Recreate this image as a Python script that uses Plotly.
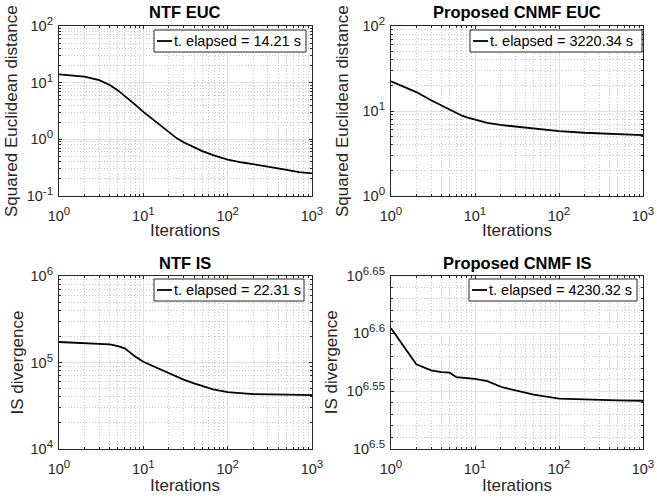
import plotly.graph_objects as go

FONT = "Liberation Sans, Arial, Helvetica, sans-serif"
INK = "#262626"
MAJOR_GRID = "#e0e0e0"
MINOR_GRID = "#c8c8c8"

W, H = 657, 500

# NTF with Euclidean cost
ntf_euc_iter = [1, 2, 3, 4, 5, 6, 7, 8, 10, 12, 14, 17, 20, 25, 30, 40, 50, 70,
                100, 150, 200, 300, 500, 700, 1000]
ntf_euc_cost = [14.0, 12.8, 11.1, 9.1, 7.3, 5.9, 4.85, 4.1, 3.05, 2.45, 2.03, 1.6,
                1.32, 1.04, 0.89, 0.715, 0.62, 0.515, 0.44, 0.39, 0.36, 0.33, 0.29,
                0.265, 0.25]

# Proposed CNMF with Euclidean cost
cnmf_euc_iter = [1, 2, 3, 4, 5, 6, 7, 8, 10, 14, 20, 30, 50, 100, 200, 500, 1000]
cnmf_euc_cost = [22.4, 16.7, 13.4, 11.6, 10.3, 9.4, 8.8, 8.4, 7.9, 7.25, 6.85, 6.55,
                 6.2, 5.8, 5.55, 5.3, 5.2]

# NTF with Itakura-Saito cost
ntf_is_iter = [1, 2, 3, 4, 5, 6, 7, 8, 10, 12, 14, 17, 22, 30, 40, 54, 67, 100,
               150, 200, 500, 1000]
ntf_is_cost = [172.5e3, 168e3, 165e3, 162e3, 155e3, 146e3, 130e3, 117e3, 102e3,
               94e3, 88.5e3, 81e3, 72e3, 63.5e3, 57.5e3, 52e3, 49e3, 45.5e3,
               43.9e3, 43.2e3, 42.5e3, 42.0e3]

# Proposed CNMF with Itakura-Saito cost
cnmf_is_iter = [1, 2, 3, 4, 5, 6, 10, 14, 21, 33, 50, 100, 200, 500, 1000]
cnmf_is_cost = [4.022e6, 3.743e6, 3.698e6, 3.685e6, 3.681e6, 3.648e6, 3.636e6,
                3.619e6, 3.576e6, 3.548e6, 3.524e6, 3.496e6, 3.489e6, 3.483e6,
                3.481e6]

panel_titles = ["NTF EUC", "Proposed CNMF EUC", "NTF IS", "Proposed CNMF IS"]
legend_labels = ["t. elapsed = 14.21 s", "t. elapsed = 3220.34 s",
                 "t. elapsed = 22.31 s", "t. elapsed = 4230.32 s"]
y_titles = ["Squared Euclidean distance", "Squared Euclidean distance",
            "IS divergence", "IS divergence"]
x_title = "Iterations"

x_decades = [0, 1, 2, 3]
y_ranges = [(-1, 2), (0, 2), (4, 6), (6.5, 6.65)]
y_major_exps = [[-1, 0, 1, 2], [0, 1, 2], [4, 5, 6], [6.5, 6.55, 6.6, 6.65]]
y_major_text = [["-1", "0", "1", "2"], ["0", "1", "2"], ["4", "5", "6"],
                ["6.5", "6.55", "6.6", "6.65"]]

# axes boxes in pixels: (left, right, top, bottom)
boxes = [(59, 312, 26, 196), (391, 643, 26, 196),
         (59, 312, 276, 449), (391, 643, 275.5, 449)]
# legend boxes in pixels: (left, top, right, bottom)
legend_boxes = [(154, 30, 306, 52), (470, 30, 642, 52),
                (154, 279, 304, 301), (469, 279, 637, 301)]
title_y = [12, 12, 263, 263]
x_title_y = [231, 231, 485, 485]
y_title_x = [12, 343, 17, 331]

TICK_SIZE = 14.5
SUP_SIZE = 11.5
LABEL_SIZE = 17


def px_x(v):
    return v / W


def px_y(v):
    return 1 - v / H


def power_label(exp_text):
    return "10<sup><span style='font-size:%gpx'>%s</span></sup>" % (SUP_SIZE, exp_text)


def decade_minors(lo, hi):
    vals = []
    for e in range(lo, hi):
        for m in range(2, 10):
            vals.append(m * 10 ** e)
    return vals


series = [(ntf_euc_iter, ntf_euc_cost), (cnmf_euc_iter, cnmf_euc_cost),
          (ntf_is_iter, ntf_is_cost), (cnmf_is_iter, cnmf_is_cost)]

fig = go.Figure()
annotations = []
shapes = []
layout = {}
label_font = dict(family=FONT, size=LABEL_SIZE, color=INK)

for i, (xs, ys) in enumerate(series):
    n = "" if i == 0 else str(i + 1)
    fig.add_trace(go.Scatter(
        x=xs, y=ys, mode="lines", name=legend_labels[i],
        line=dict(color="black", width=1.8),
        xaxis="x" + n, yaxis="y" + n, showlegend=False,
    ))

    left, right, top, bottom = boxes[i]
    xdom = [px_x(left), px_x(right)]
    ydom = [px_y(bottom), px_y(top)]

    ylo, yhi = y_ranges[i]
    if i == 3:
        y_minor = [10 ** (6.5 + 0.01 * k) for k in range(1, 15) if k % 5 != 0]
    else:
        y_minor = decade_minors(int(ylo), int(yhi))

    common = dict(
        type="log", showline=True, linecolor=INK, linewidth=1, mirror="ticks",
        ticks="inside", ticklen=3, tickcolor=INK, tickwidth=1,
        showgrid=True, gridcolor=MAJOR_GRID, gridwidth=1,
        zeroline=False, automargin=False,
        tickfont=dict(family=FONT, size=TICK_SIZE, color=INK),
    )
    minor = dict(tickmode="array", ticks="inside", ticklen=2, tickcolor=INK,
                 showgrid=True, gridcolor=MINOR_GRID, griddash="1px,2px",
                 gridwidth=1)
    layout["xaxis" + n] = dict(
        common, domain=xdom, anchor="y" + n, range=[0, 3],
        tickmode="array", tickvals=[10 ** d for d in x_decades],
        ticktext=[power_label(str(d)) for d in x_decades],
        ticklabelstandoff=7,
        minor=dict(minor, tickvals=decade_minors(0, 3)),
    )
    layout["yaxis" + n] = dict(
        common, domain=ydom, anchor="x" + n, range=[ylo, yhi],
        tickmode="array", tickvals=[10 ** e for e in y_major_exps[i]],
        ticktext=[power_label(t) for t in y_major_text[i]],
        ticklabelstandoff=2,
        minor=dict(minor, tickvals=y_minor),
    )

    # axis titles
    annotations.append(dict(
        text=x_title, x=(xdom[0] + xdom[1]) / 2, y=px_y(x_title_y[i]),
        xref="paper", yref="paper", xanchor="center", yanchor="middle",
        showarrow=False, font=label_font,
    ))
    annotations.append(dict(
        text=y_titles[i], x=px_x(y_title_x[i]), y=(ydom[0] + ydom[1]) / 2,
        xref="paper", yref="paper", xanchor="center", yanchor="middle",
        textangle=-90, showarrow=False, font=label_font,
    ))

    # legend box with a line sample and the elapsed-time label
    bl, bt, br, bb = legend_boxes[i]
    mid = (bt + bb) / 2
    shapes.append(dict(type="rect", xref="paper", yref="paper",
                       x0=px_x(bl), x1=px_x(br), y0=px_y(bb), y1=px_y(bt),
                       fillcolor="white", line=dict(color=INK, width=1), layer="above"))
    shapes.append(dict(type="line", xref="paper", yref="paper",
                       x0=px_x(bl + 3), x1=px_x(bl + 18), y0=px_y(mid), y1=px_y(mid),
                       line=dict(color="black", width=1.8), layer="above"))
    annotations.append(dict(
        text=legend_labels[i], x=px_x(bl + 18), y=px_y(mid),
        xref="paper", yref="paper", xanchor="left", yanchor="middle",
        showarrow=False, font=dict(family=FONT, size=14.5, color="black"),
    ))

    annotations.append(dict(
        text="<b>%s</b>" % panel_titles[i], x=(xdom[0] + xdom[1]) / 2,
        y=px_y(title_y[i]), xref="paper", yref="paper",
        xanchor="center", yanchor="middle", showarrow=False,
        font=dict(family=FONT, size=16.5, color="black"),
    ))

fig.update_layout(
    width=W, height=H, margin=dict(l=0, r=0, t=0, b=0),
    paper_bgcolor="white", plot_bgcolor="white",
    font=dict(family=FONT, color=INK), showlegend=False,
    annotations=annotations, shapes=shapes, **layout,
)

fig.write_html("out.html")
